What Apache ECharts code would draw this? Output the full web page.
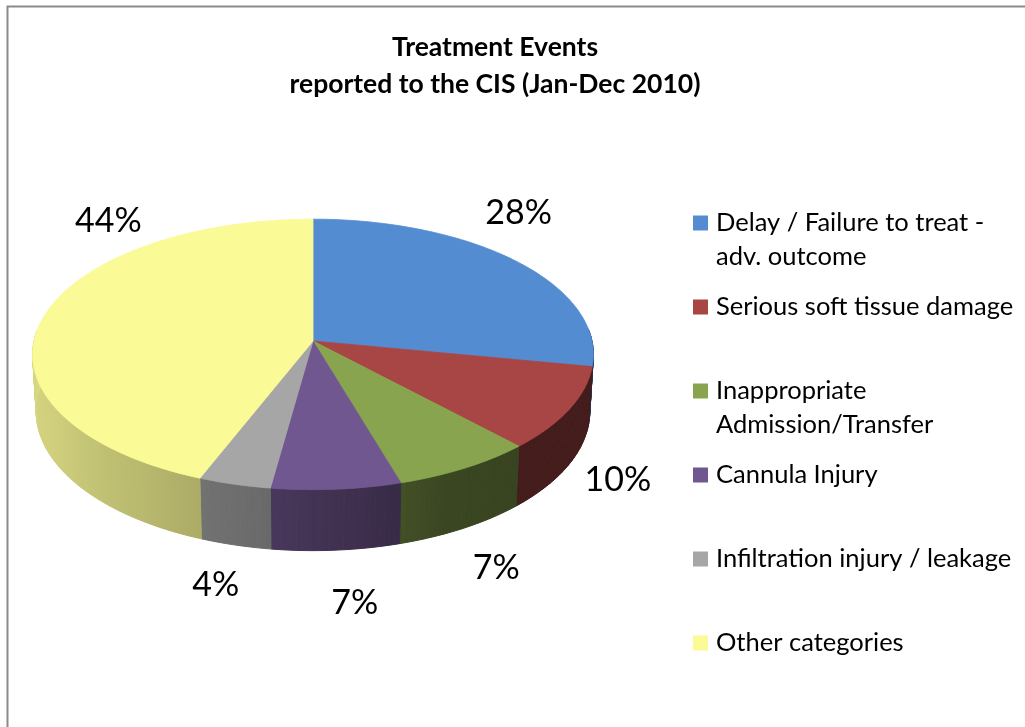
<!DOCTYPE html>
<html><head><meta charset="utf-8">
<script src="https://cdn.jsdelivr.net/npm/echarts@6/dist/echarts.min.js"></script>
<style>html,body{margin:0;padding:0;background:#fff}#c{width:1025px;height:727px}</style>
</head><body><div id="c"></div>
<script>
// ---- data ----
const categories = [
  'Delay / Failure to treat -\nadv. outcome',
  'Serious soft tissue damage',
  'Inappropriate\nAdmission/Transfer',
  'Cannula Injury',
  'Infiltration injury / leakage',
  'Other categories'
];
const values = [28, 10, 7.4, 6.8, 3.8, 44];
const titleLines = ['Treatment Events', 'reported to the CIS (Jan-Dec 2010)'];

// ---- style ----
const palette = ['#548CD2', '#A84545', '#88A44E', '#71578F', '#A6A6A6', '#FAFA96'];
const FONT = 'Lato, "Open Sans", sans-serif';
const geo = { cx: 313, cy: 341, F: 2469, D: 8.85, sinE: 0.48, cosE: 0.877, h: 0.2355 };
const wallShade = [[80,0.40],[140,0.41],[155,0.43],[168,0.52],[187,0.63],[200,0.68],[215,0.74],[240,0.82],[280,0.88]];
const labelNudge = [[-42,-56],[-18,23],[-10,34],[12,40],[3,29],[128,-117]];

const total = values.reduce((a, b) => a + b, 0);
const starts = []; let acc = 0;
values.forEach(v => { starts.push(acc); acc += v; });

const rad = d => d * Math.PI / 180;
function proj(t, Y, r) {
  const X = r * Math.sin(t), Z = r * Math.cos(t);
  const u = Y * geo.cosE + Z * geo.sinE;
  const d = geo.D + Z * geo.cosE - Y * geo.sinE;
  return [geo.cx + geo.F * X / d, geo.cy - geo.F * u / d];
}
function shadeFactor(deg) {
  if (deg <= wallShade[0][0]) return wallShade[0][1];
  for (let k = 1; k < wallShade.length; k++) {
    if (deg <= wallShade[k][0]) {
      const [a0, f0] = wallShade[k - 1], [a1, f1] = wallShade[k];
      return f0 + (f1 - f0) * (deg - a0) / (a1 - a0);
    }
  }
  return wallShade[wallShade.length - 1][1];
}
function shade(hex, f) {
  const n = parseInt(hex.slice(1), 16);
  const r = Math.round(((n >> 16) & 255) * f), g = Math.round(((n >> 8) & 255) * f), b = Math.round((n & 255) * f);
  return 'rgb(' + r + ',' + g + ',' + b + ')';
}

function renderSlice(params, api) {
  const i = params.seriesIndex;
  const v = api.value(0);
  const a0 = starts[i] / total * 360, a1 = a0 + v / total * 360;
  const children = [];
  // top face
  const pts = [[geo.cx, geo.cy]];
  const n = Math.max(2, Math.ceil(a1 - a0));
  for (let k = 0; k <= n; k++) pts.push(proj(rad(a0 + (a1 - a0) * k / n), 0, 1));
  children.push({ type: 'polygon', shape: { points: pts }, z2: 10,
    style: { fill: palette[i], stroke: palette[i], lineWidth: 0.8, lineJoin: 'round' } });
  // outer wall (front half)
  const w0 = Math.max(a0, 85), w1 = Math.min(a1, 275);
  if (w1 > w0) {
    const m = Math.max(1, Math.ceil(w1 - w0));
    for (let k = 0; k < m; k++) {
      const t0 = w0 + (w1 - w0) * k / m, t1 = w0 + (w1 - w0) * (k + 1) / m;
      const c = shade(palette[i], shadeFactor((t0 + t1) / 2));
      children.push({ type: 'polygon', z2: 1,
        shape: { points: [proj(rad(t0), 0, 1), proj(rad(t1), 0, 1), proj(rad(t1), -geo.h, 1), proj(rad(t0), -geo.h, 1)] },
        style: { fill: c, stroke: c, lineWidth: 1 } });
    }
  }
  // label
  const mid = (a0 + a1) / 2;
  const p = proj(rad(mid), -geo.h / 2, 1.25);
  children.push({ type: 'text', z2: 20, x: p[0] + labelNudge[i][0], y: p[1] + labelNudge[i][1],
    style: { text: Math.round(v / total * 100) + '%', fill: '#000', fontSize: 34, fontFamily: FONT,
      align: 'center', verticalAlign: 'middle' } });
  return { type: 'group', children };
}

const rich = {
  p: { width: 15, lineHeight: 34 },
  t: { fontSize: 25.5, fontFamily: FONT, lineHeight: 34, padding: [0, 0, 0, 8], color: '#000' }
};
palette.forEach((c, i) => { rich['s' + i] = { width: 15, height: 15, lineHeight: 34, backgroundColor: c }; });

const chart = echarts.init(document.getElementById('c'), null, { renderer: 'canvas' });
chart.setOption({
  animation: false,
  backgroundColor: '#fff',
  title: {
    text: titleLines.join('\n'), left: 495, top: 29, padding: 0, textAlign: 'center',
    textStyle: { fontFamily: FONT, fontSize: 26.5, fontWeight: 'bold', lineHeight: 37, color: '#000' }
  },
  legend: {
    orient: 'vertical', left: 688, top: 210, padding: 0, itemGap: 24,
    itemWidth: 0, itemHeight: 0, icon: 'rect', selectedMode: false,
    data: categories,
    formatter: name => {
      const i = categories.indexOf(name);
      const lines = name.split('\n');
      return '{s' + i + '|}{t|' + lines[0] + '}\n{p| }' + (lines[1] ? '{t|' + lines[1] + '}' : '');
    },
    textStyle: { fontFamily: FONT, fontSize: 25.5, color: '#000', rich }
  },
  graphic: [{ type: 'rect', left: 5, top: 4, silent: true, z: -1,
    shape: { width: 1100, height: 800 }, style: { fill: 'none', stroke: '#8a8a8a', lineWidth: 2 } }],
  series: categories.map((name, i) => ({
    type: 'custom', name, coordinateSystem: 'none', silent: true,
    itemStyle: { color: palette[i] },
    renderItem: renderSlice,
    data: [[values[i]]]
  }))
});
</script></body></html>
